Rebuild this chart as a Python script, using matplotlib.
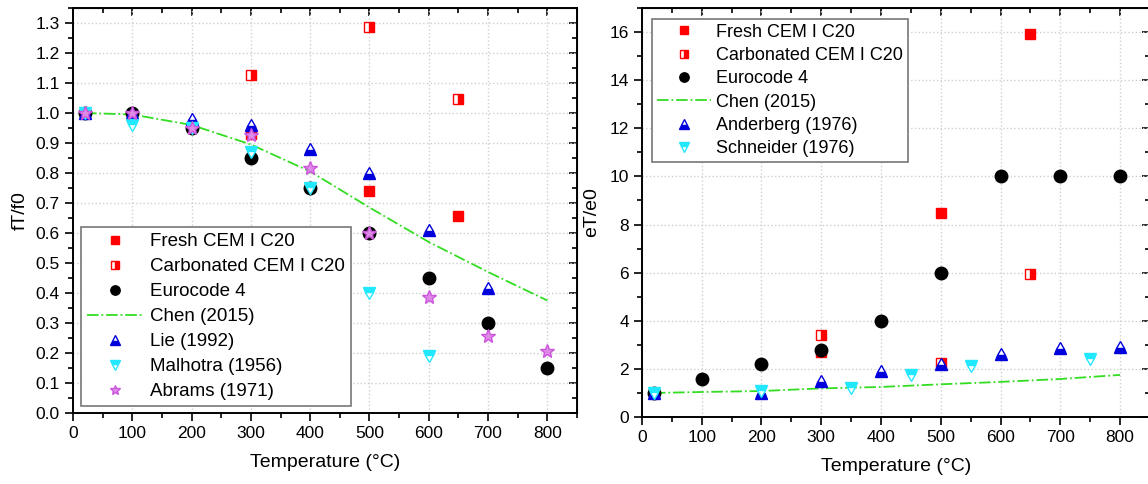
import matplotlib
matplotlib.use("Agg")
import matplotlib.pyplot as plt
from matplotlib.ticker import MultipleLocator, FormatStrFormatter

plt.rcParams['font.family'] = ['Liberation Sans', 'DejaVu Sans']

# ---- compressive strength ratio fT/f0 ----
fresh_T_f = [300, 500, 650]
fresh_f = [0.93, 0.74, 0.655]
carb_T_f = [300, 500, 650]
carb_f = [1.125, 1.285, 1.045]
ec4_T = [20, 100, 200, 300, 400, 500, 600, 700, 800]
ec4_f = [1.0, 1.0, 0.95, 0.85, 0.75, 0.60, 0.45, 0.30, 0.15]
chen_T = [20, 100, 200, 300, 400, 500, 600, 700, 800]
chen_f = [1.0, 0.995, 0.96, 0.895, 0.805, 0.685, 0.57, 0.47, 0.375]
lie_T = [20, 100, 200, 300, 400, 500, 600, 700]
lie_f = [1.0, 1.0, 0.98, 0.96, 0.88, 0.80, 0.61, 0.415]
malh_T = [20, 100, 200, 300, 400, 500, 600]
malh_f = [1.0, 0.96, 0.95, 0.87, 0.75, 0.40, 0.19]
abr_T = [20, 100, 200, 300, 400, 500, 600, 700, 800]
abr_f = [1.0, 1.0, 0.95, 0.925, 0.815, 0.60, 0.385, 0.255, 0.205]

# ---- strain ratio eT/e0 ----
fresh_T_e = [300, 500, 650]
fresh_e = [2.7, 8.5, 15.9]
carb_T_e = [300, 500, 650]
carb_e = [3.4, 2.25, 5.95]
ec4_e = [1.0, 1.6, 2.2, 2.8, 4.0, 6.0, 10.0, 10.0, 10.0]
chen_e = [1.0, 1.04, 1.08, 1.19, 1.25, 1.36, 1.46, 1.58, 1.75]
and_T = [20, 200, 300, 400, 500, 600, 700, 800]
and_e = [1.0, 1.0, 1.5, 1.9, 2.2, 2.6, 2.85, 2.9]
sch_T = [20, 200, 350, 450, 550, 750]
sch_e = [1.0, 1.1, 1.2, 1.75, 2.1, 2.4]

RED = '#ff0000'
BLUE = '#0000dd'
CYAN = '#22e8ff'
MAG = '#cc55dd'
GREEN = '#33dd22'


def style_axes(ax, ymajor, yminor):
    ax.set_xlim(0, 850)
    ax.xaxis.set_major_locator(MultipleLocator(100))
    ax.xaxis.set_minor_locator(MultipleLocator(50))
    ax.yaxis.set_major_locator(MultipleLocator(ymajor))
    ax.yaxis.set_minor_locator(MultipleLocator(yminor))
    ax.grid(True, which='major', color='#d0d0d0', linestyle=':', linewidth=1.0)
    ax.tick_params(which='both', direction='out', labelsize=12.5, width=1.2)
    ax.tick_params(which='major', length=6)
    ax.tick_params(which='minor', length=3.5)
    for s in ax.spines.values():
        s.set_linewidth(1.4)
    # mirrored ticks on top and right, pointing into the plot
    top = ax.secondary_xaxis('top')
    top.xaxis.set_major_locator(MultipleLocator(100))
    top.xaxis.set_minor_locator(MultipleLocator(50))
    top.tick_params(which='both', direction='in', labeltop=False, width=1.2)
    top.tick_params(which='major', length=6)
    top.tick_params(which='minor', length=3.5)
    right = ax.secondary_yaxis('right')
    right.yaxis.set_major_locator(MultipleLocator(ymajor))
    right.yaxis.set_minor_locator(MultipleLocator(yminor))
    right.tick_params(which='both', direction='in', labelright=False, width=1.2)
    right.tick_params(which='major', length=6)
    right.tick_params(which='minor', length=3.5)
    ax.set_xlabel('Temperature (°C)', fontsize=14, labelpad=9)


fig = plt.figure(figsize=(11.48, 4.84), dpi=100)
ax1 = fig.add_axes([0.0636, 0.1467, 0.439, 0.8368])
ax2 = fig.add_axes([0.5592, 0.1384, 0.4425, 0.845])

# left panel
ax1.plot(fresh_T_f, fresh_f, 's', color=RED, ms=7, label='Fresh CEM I C20', zorder=4)
ax1.plot(carb_T_f, carb_f, 's', ms=7, fillstyle='right', markerfacecolor=RED,
         markerfacecoloralt='white', markeredgecolor=RED, label='Carbonated CEM I C20', zorder=4)
ax1.plot(ec4_T, ec4_f, 'o', color='black', ms=9, label='Eurocode 4', zorder=3)
ax1.plot(chen_T, chen_f, '-.', color=GREEN, lw=1.3, label='Chen (2015)', zorder=2)
ax1.plot(lie_T, lie_f, '^', ms=9, fillstyle='bottom', markerfacecolor=BLUE,
         markerfacecoloralt='white', markeredgecolor=BLUE, label='Lie (1992)', zorder=4)
ax1.plot(malh_T, malh_f, 'v', ms=9, fillstyle='top', markerfacecolor=CYAN,
         markerfacecoloralt='white', markeredgecolor=CYAN, label='Malhotra (1956)', zorder=4)
ax1.plot(abr_T, abr_f, '*', ms=10, markerfacecolor='#e08ae8', markeredgecolor=MAG,
         label='Abrams (1971)', zorder=5)
ax1.set_ylim(0, 1.35)
style_axes(ax1, 0.1, 0.05)
ax1.yaxis.set_major_formatter(FormatStrFormatter('%.1f'))
ax1.set_ylabel('fT/f0', fontsize=14, labelpad=5)
leg1 = ax1.legend(loc='lower left', bbox_to_anchor=(0.016, 0.018), fontsize=13.5,
                  frameon=True, fancybox=False, edgecolor='#777777', framealpha=1,
                  markerscale=0.75, handlelength=3.0, handletextpad=0.4,
                  labelspacing=0.42, borderpad=0.3, borderaxespad=0)
leg1.get_frame().set_linewidth(1.2)

# right panel
ax2.plot(fresh_T_e, fresh_e, 's', color=RED, ms=7, label='Fresh CEM I C20', zorder=3)
ax2.plot(carb_T_e, carb_e, 's', ms=7, fillstyle='right', markerfacecolor=RED,
         markerfacecoloralt='white', markeredgecolor=RED, label='Carbonated CEM I C20', zorder=4)
ax2.plot(ec4_T, ec4_e, 'o', color='black', ms=9, label='Eurocode 4', zorder=4)
ax2.plot(chen_T, chen_e, '-.', color=GREEN, lw=1.3, label='Chen (2015)', zorder=2)
ax2.plot(and_T, and_e, '^', ms=9, fillstyle='bottom', markerfacecolor=BLUE,
         markerfacecoloralt='white', markeredgecolor=BLUE, label='Anderberg (1976)', zorder=4)
ax2.plot(sch_T, sch_e, 'v', ms=9, fillstyle='top', markerfacecolor=CYAN,
         markerfacecoloralt='white', markeredgecolor=CYAN, label='Schneider (1976)', zorder=4)
ax2.set_ylim(0, 17)
style_axes(ax2, 2, 1)
ax2.set_ylabel('eT/e0', fontsize=14, labelpad=7)
leg2 = ax2.legend(loc='upper left', bbox_to_anchor=(0.02, 0.973), fontsize=13,
                  frameon=True, fancybox=False, edgecolor='#777777', framealpha=1,
                  markerscale=0.75, handlelength=3.0, handletextpad=0.3,
                  labelspacing=0.35, borderpad=0.25, borderaxespad=0)
leg2.get_frame().set_linewidth(1.2)

fig.savefig('out.png', dpi=100)
